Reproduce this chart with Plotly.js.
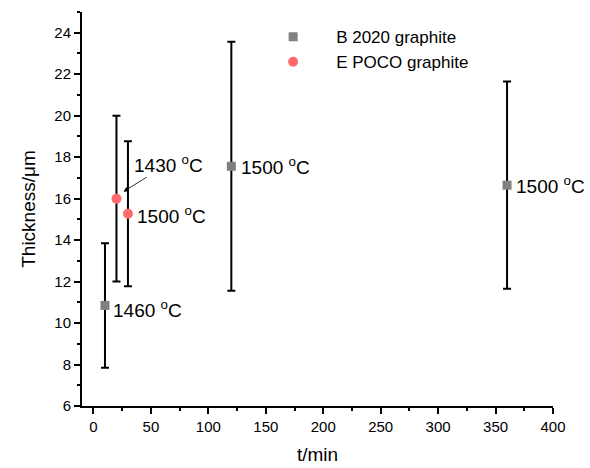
<!DOCTYPE html>
<html>
<head>
<meta charset="utf-8">
<script src="https://cdn.plot.ly/plotly-3.0.1.min.js"></script>
<style>html,body{margin:0;padding:0;background:#fff;}#chart{width:590px;height:468px;}</style>
</head>
<body>
<div id="chart"></div>
<script>
// Series B 2020 graphite
const bTime = [10, 120, 360];
const bThick = [10.85, 17.56, 16.65];
const bErr = [3.0, 6.0, 5.0];
const bLabels = ["1460 <sup>o</sup>C", "1500 <sup>o</sup>C", "1500 <sup>o</sup>C"];
// Series E POCO graphite
const eTime = [20, 30];
const eThick = [16.0, 15.27];
const eErr = [4.0, 3.5];
const eLabels = ["1430 <sup>o</sup>C", "1500 <sup>o</sup>C"];

const FONT = "Liberation Sans, Arial, sans-serif";

const traces = [
  {
    x: bTime, y: bThick, type: "scatter", mode: "markers", name: "B 2020 graphite",
    marker: {symbol: "square", size: 9, color: "#808080"},
    error_y: {type: "data", array: bErr, visible: true, color: "#000", thickness: 2, width: 4}
  },
  {
    x: eTime, y: eThick, type: "scatter", mode: "markers", name: "E POCO graphite",
    marker: {symbol: "circle", size: 10, color: "#FF6B6B"},
    error_y: {type: "data", array: eErr, visible: true, color: "#000", thickness: 2, width: 4}
  }
];

const annFont = {family: FONT, size: 19, color: "#000"};
const annotations = [
  {x: bTime[0], y: bThick[0], text: bLabels[0], showarrow: false, xanchor: "left", xshift: 6, yshift: -4, font: annFont},
  {x: bTime[1], y: bThick[1], text: bLabels[1], showarrow: false, xanchor: "left", xshift: 8, yshift: 0, font: annFont},
  {x: bTime[2], y: bThick[2], text: bLabels[2], showarrow: false, xanchor: "left", xshift: 7, yshift: 0, font: annFont},
  {x: eTime[1], y: eThick[1], text: eLabels[1], showarrow: false, xanchor: "left", xshift: 7, yshift: -1, font: annFont},
  {x: eTime[0], y: eThick[0], text: eLabels[0], showarrow: true, arrowhead: 2, arrowsize: 1.2, arrowwidth: 0.8,
   arrowcolor: "#000", xshift: 7, yshift: 7, ax: 45, ay: -28, font: annFont}
];

const layout = {
  width: 590, height: 468,
  margin: {l: 82, r: 37, t: 12, b: 62},
  paper_bgcolor: "#fff", plot_bgcolor: "#fff",
  font: {family: FONT, color: "#000"},
  showlegend: true,
  legend: {x: 0.357, y: 0.982, xanchor: "left", yanchor: "top", bgcolor: "rgba(0,0,0,0)",
           font: {family: FONT, size: 17, color: "#000"}, itemwidth: 76, tracegroupgap: 0},
  xaxis: {
    range: [-10, 400], tickvals: [0, 50, 100, 150, 200, 250, 300, 350, 400],
    showgrid: false, zeroline: false, showline: true, linecolor: "#000", linewidth: 2,
    ticks: "outside", ticklen: 6, tickwidth: 2, tickcolor: "#000",
    minor: {tickvals: [25, 75, 125, 175, 225, 275, 325, 375], ticks: "outside", ticklen: 3, tickwidth: 2, tickcolor: "#000", showgrid: false},
    tickfont: {family: FONT, size: 15, color: "#000"},
    title: {text: "t/min", font: {family: FONT, size: 19, color: "#000"}, standoff: 14}
  },
  yaxis: {
    range: [6, 25], tickvals: [6, 8, 10, 12, 14, 16, 18, 20, 22, 24],
    showgrid: false, zeroline: false, showline: true, linecolor: "#000", linewidth: 2,
    ticks: "outside", ticklen: 6, tickwidth: 2, tickcolor: "#000",
    minor: {tickvals: [7, 9, 11, 13, 15, 17, 19, 21, 23, 25], ticks: "outside", ticklen: 3, tickwidth: 2, tickcolor: "#000", showgrid: false},
    tickfont: {family: FONT, size: 15, color: "#000"},
    title: {text: "Thickness/μm", font: {family: FONT, size: 19, color: "#000"}, standoff: 14}
  },
  annotations: annotations
};

Plotly.newPlot("chart", traces, layout, {displayModeBar: false, staticPlot: true});
</script>
</body>
</html>
